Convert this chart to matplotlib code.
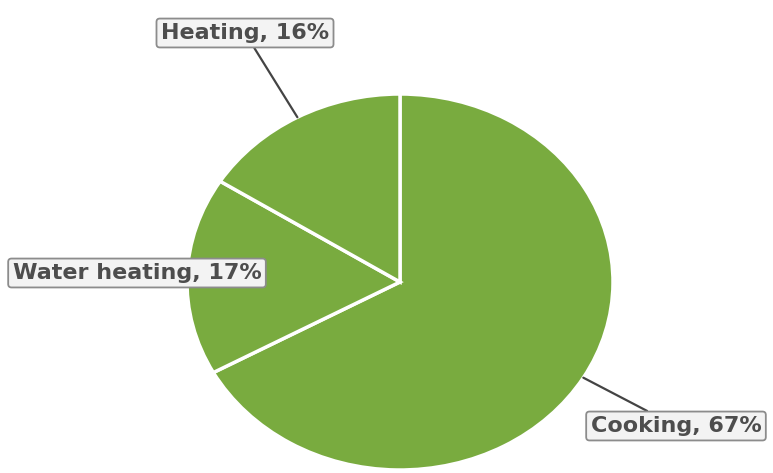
import numpy as np
import matplotlib
matplotlib.use("Agg")
import matplotlib.pyplot as plt

# Energy use shares
categories = ["Cooking", "Water heating", "Heating"]
shares = [67, 17, 16]
tick_labels = ["Cooking, 67%", "Water heating, 17%", "Heating, 16%"]

W, H = 773, 473
fig = plt.figure(figsize=(W / 100, H / 100), dpi=100)

# pie is a bit squashed vertically in the reference, so aspect stays auto
cx, cy, rx, ry = 400, 282, 213, 188
ax = fig.add_axes([(cx - rx) / W, (H - cy - ry) / H, 2 * rx / W, 2 * ry / H])

wedges, _ = ax.pie(shares, startangle=90, counterclock=False, colors=["#79ab3f"] * 3,
                   wedgeprops=dict(edgecolor="white", linewidth=2.5))
ax.set_aspect("auto")
ax.set_xlim(-1, 1)
ax.set_ylim(-1, 1)
ax.axis("off")

# label boxes, centre in figure pixels (from bottom-left)
label_pos = [(676, H - 426), (137, H - 273), (245, H - 33)]
show_line = [True, False, True]

for w, lab, pos, line in zip(wedges, tick_labels, label_pos, show_line):
    mid = np.deg2rad((w.theta1 + w.theta2) / 2)
    pt = (np.cos(mid), np.sin(mid))
    ax.annotate(lab, xy=pt, xycoords="data", xytext=pos, textcoords="figure pixels",
                ha="center", va="center", fontsize=16, fontweight="bold",
                family=["DejaVu Sans"], color="#4d4d4d",
                bbox=dict(boxstyle="round,pad=0.2,rounding_size=0.15", fc="#f3f3f3",
                          ec="#8c8c8c", lw=1.3),
                arrowprops=dict(arrowstyle="-", color="#444444", lw=1.6,
                                shrinkA=0, shrinkB=0) if line else None,
                annotation_clip=False)

fig.savefig("out.png", dpi=100)
